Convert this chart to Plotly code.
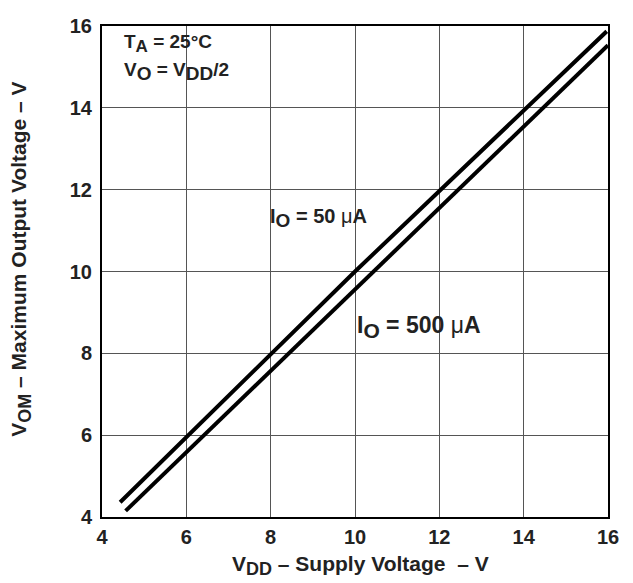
import plotly.graph_objects as go

# data
vdd_50 = [4.43, 10.0, 15.97]
vom_50 = [4.36, 10.0, 15.87]
vdd_500 = [4.56, 10.0, 16.0]
vom_500 = [4.15, 9.56, 15.53]
x_ticks = [4, 6, 8, 10, 12, 14, 16]
y_ticks = [4, 6, 8, 10, 12, 14, 16]

FONT = "Liberation Sans, Arial, sans-serif"
TXT = "#222222"


def sub(s, px):
    return f'<sub><span style="font-size:{px}px">{s}</span></sub>'


fig = go.Figure()
fig.add_trace(go.Scatter(x=vdd_50, y=vom_50, mode="lines",
                         line=dict(color="black", width=4), showlegend=False))
fig.add_trace(go.Scatter(x=vdd_500, y=vom_500, mode="lines",
                         line=dict(color="black", width=4), showlegend=False))

axis_common = dict(showline=True, linecolor="black", linewidth=2, mirror=True,
                   showgrid=True, gridcolor="#555555", gridwidth=1,
                   zeroline=False, ticks="", ticklabeloverflow="allow",
                   tickfont=dict(family=FONT, size=20, color=TXT))

fig.update_xaxes(range=[4, 16], tickvals=x_ticks, ticktext=[f"<b>{t}</b>" for t in x_ticks],
                 ticklabelstandoff=1, **axis_common)
fig.update_yaxes(range=[4, 16], tickvals=y_ticks, ticktext=[f"<b>{t}</b>" for t in y_ticks],
                 ticklabelstandoff=4, **axis_common)

# axis titles
fig.add_annotation(xref="paper", yref="paper", x=0.51, y=-0.098,
                   xanchor="center", yanchor="middle", showarrow=False,
                   text=f"<b>V{sub('DD', 18)} – Supply Voltage  – V</b>",
                   font=dict(family=FONT, size=21, color=TXT))
fig.add_annotation(xref="paper", yref="paper", x=-0.16, y=0.524,
                   xanchor="center", yanchor="middle", showarrow=False, textangle=-90,
                   text=f"<b>V{sub('OM', 18)} – Maximum Output Voltage – V</b>",
                   font=dict(family=FONT, size=21, color=TXT))

ann_font = dict(family=FONT, size=19, color=TXT)
fig.add_annotation(x=4.47, y=15.57, xanchor="left", yanchor="middle", showarrow=False,
                   text=f"<b>T{sub('A', 17)} = 25°C</b>", font=ann_font)
fig.add_annotation(x=4.47, y=14.9, xanchor="left", yanchor="middle", showarrow=False,
                   text=f"<b>V{sub('O', 19)} = V{sub('DD', 19)}/2</b>", font=ann_font)
fig.add_annotation(x=7.93, y=11.31, xanchor="left", yanchor="middle", showarrow=False,
                   text=f"<b>I{sub('O', 19)} = 50 </b>μ<b>A</b>",
                   font=dict(family=FONT, size=20, color=TXT))
fig.add_annotation(x=10.0, y=8.65, xanchor="left", yanchor="middle", showarrow=False,
                   text=f"<b>I{sub('O', 21)} = 500 </b>μ<b>A</b>",
                   font=dict(family=FONT, size=23, color=TXT))

fig.update_layout(width=633, height=583, plot_bgcolor="white", paper_bgcolor="white",
                  margin=dict(l=94, r=33, t=7, b=74))

fig.write_html("out.html")
